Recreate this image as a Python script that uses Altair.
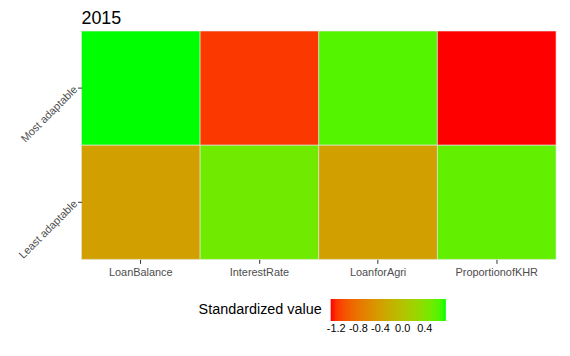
import altair as alt
import pandas as pd

variables = ["LoanBalance", "InterestRate", "LoanforAgri", "ProportionofKHR"]
groups = ["Most adaptable", "Least adaptable"]
most_values = [0.78, -1.18, 0.64, -1.30]
least_values = [-0.40, 0.52, -0.40, 0.58]
legend_ticks = [-1.2, -0.8, -0.4, 0.0, 0.4]

rows = []
for v, m, l in zip(variables, most_values, least_values):
    rows.append({"variable": v, "group": "Most adaptable", "value": m})
    rows.append({"variable": v, "group": "Least adaptable", "value": l})
df = pd.DataFrame(rows)

lo = min(most_values + least_values)
hi = max(most_values + least_values)

chart = alt.Chart(df).mark_rect(stroke="#E8E8E8", strokeWidth=0.6).encode(
    x=alt.X("variable:N", sort=variables, title=None,
            axis=alt.Axis(labelAngle=0, labelColor="#4D4D4D", labelFontSize=11,
                          tickColor="#333333", tickSize=4, domain=False, labelPadding=3)),
    y=alt.Y("group:N", sort=groups, title=None,
            axis=alt.Axis(labelAngle=-45, labelColor="#4D4D4D", labelFontSize=11,
                          labelAlign="right", labelBaseline="middle",
                          tickColor="#333333", tickSize=4, domain=False, labelPadding=2)),
    color=alt.Color("value:Q",
                    scale=alt.Scale(range=["#FF0000", "#00FF00"], interpolate="lab",
                                    domain=[lo, hi], zero=False, nice=False),
                    legend=alt.Legend(title="Standardized value", orient="none",
                                      direction="horizontal", titleOrient="left",
                                      titleFontSize=14.5, titleFontWeight="normal",
                                      titleColor="black", titleBaseline="middle",
                                      values=legend_ticks,
                                      labelExpr="datum.value < 0 ? '-' + format(-datum.value, '.1f') : format(datum.value, '.1f')",
                                      labelFontSize=11, labelColor="#000000",
                                      gradientLength=116, gradientThickness=22,
                                      gradientStrokeWidth=0, legendX=118, legendY=270,
                                      titlePadding=8)),
).properties(
    width=478, height=230,
    padding={"left": 8, "top": 0, "right": 5, "bottom": 5},
    title=alt.TitleParams("2015", anchor="start", frame="group", fontSize=18,
                          fontWeight="normal", font="Liberation Sans", color="black",
                          offset=3),
).configure_view(stroke=None).configure_axis(
    grid=False, labelFont="Liberation Sans"
).configure_legend(labelFont="Liberation Sans", titleFont="Liberation Sans")

chart.save("out.html", embed_options={"renderer": "svg", "actions": False})
